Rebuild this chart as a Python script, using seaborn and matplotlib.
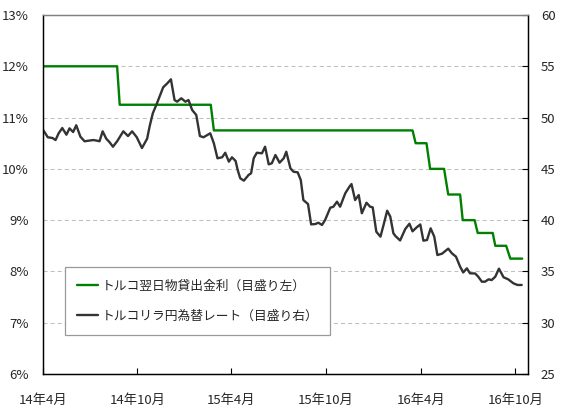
import matplotlib
matplotlib.use("Agg")
import matplotlib.pyplot as plt
import matplotlib.dates as mdates
from matplotlib.ticker import FixedLocator, FuncFormatter
from matplotlib.lines import Line2D
import seaborn as sns
import pandas as pd

# ==========================================
# データ
# ==========================================
rate_dates = ["2014-04-02", "2014-08-23", "2014-08-28", "2015-02-20", "2015-02-26",
              "2016-03-16", "2016-03-22", "2016-04-12", "2016-04-19", "2016-05-16",
              "2016-05-24", "2016-06-16", "2016-06-21", "2016-07-14", "2016-07-20",
              "2016-08-18", "2016-08-23", "2016-09-13", "2016-09-21", "2016-10-14"]
rate_values = [12.0, 12.0, 11.25, 11.25, 10.75,
               10.75, 10.5, 10.5, 10.0, 10.0,
               9.5, 9.5, 9.0, 9.0, 8.75,
               8.75, 8.5, 8.5, 8.25, 8.25]

fx_dates = ["2014-04-02", "2014-04-11", "2014-04-20", "2014-04-26", "2014-05-02",
            "2014-05-09", "2014-05-17", "2014-05-23", "2014-05-30", "2014-06-05",
            "2014-06-13", "2014-06-21", "2014-06-29", "2014-07-08", "2014-07-15",
            "2014-07-20", "2014-07-26", "2014-08-02", "2014-08-08", "2014-08-15",
            "2014-08-23", "2014-09-04", "2014-09-13", "2014-09-21", "2014-09-30",
            "2014-10-10", "2014-10-20", "2014-10-25", "2014-10-31", "2014-11-08",
            "2014-11-20", "2014-11-28", "2014-12-05", "2014-12-12", "2014-12-17",
            "2014-12-25", "2015-01-02", "2015-01-08", "2015-01-15", "2015-01-23",
            "2015-01-30", "2015-02-06", "2015-02-19", "2015-02-26", "2015-03-05",
            "2015-03-14", "2015-03-20", "2015-03-27", "2015-04-02", "2015-04-09",
            "2015-04-13", "2015-04-18", "2015-04-25", "2015-05-04", "2015-05-09",
            "2015-05-14", "2015-05-20", "2015-05-30", "2015-06-05", "2015-06-12",
            "2015-06-18", "2015-06-25", "2015-07-03", "2015-07-11", "2015-07-16",
            "2015-07-24", "2015-07-30", "2015-08-07", "2015-08-13", "2015-08-18",
            "2015-08-27", "2015-09-02", "2015-09-10", "2015-09-16", "2015-09-23",
            "2015-09-29", "2015-10-09", "2015-10-15", "2015-10-22", "2015-10-28",
            "2015-11-07", "2015-11-15", "2015-11-19", "2015-11-26", "2015-12-03",
            "2015-12-09", "2015-12-18", "2015-12-25", "2015-12-30", "2016-01-06",
            "2016-01-14", "2016-01-20", "2016-01-27", "2016-02-02", "2016-02-08",
            "2016-02-12", "2016-02-21", "2016-03-02", "2016-03-10", "2016-03-16",
            "2016-03-24", "2016-03-31", "2016-04-06", "2016-04-13", "2016-04-20",
            "2016-04-27", "2016-05-03", "2016-05-12", "2016-05-24", "2016-05-31",
            "2016-06-08", "2016-06-16", "2016-06-22", "2016-06-29", "2016-07-05",
            "2016-07-15", "2016-07-21", "2016-07-28", "2016-08-03", "2016-08-10",
            "2016-08-16", "2016-08-23", "2016-08-30", "2016-09-08", "2016-09-17",
            "2016-09-27", "2016-10-05", "2016-10-13"]
fx_values = [48.79, 48.08, 48.01, 47.81, 48.47,
             48.98, 48.33, 48.95, 48.59, 49.25,
             48.14, 47.69, 47.75, 47.81, 47.75,
             47.69, 48.66, 47.94, 47.62, 47.16,
             47.69, 48.66, 48.20, 48.66, 48.08,
             47.03, 47.94, 49.18, 50.42, 51.39,
             52.95, 53.34, 53.73, 51.71, 51.55,
             51.88, 51.55, 51.71, 50.74, 50.25,
             48.20, 48.08, 48.47, 47.49, 46.03,
             46.13, 46.57, 45.70, 46.13, 45.77,
             44.89, 44.08, 43.85, 44.40, 44.57,
             46.03, 46.57, 46.52, 47.16, 45.44,
             45.54, 46.35, 45.60, 46.03, 46.67,
             45.05, 44.72, 44.66, 43.91, 41.96,
             41.57, 39.59, 39.62, 39.75, 39.53,
             40.01, 41.21, 41.31, 41.80, 41.31,
             42.62, 43.26, 43.52, 41.96, 42.45,
             40.67, 41.70, 41.31, 41.25, 38.87,
             38.39, 39.53, 40.92, 40.34, 38.72,
             38.45, 38.02, 39.14, 39.65, 38.91,
             39.30, 39.58, 38.00, 38.06, 39.20,
             38.39, 36.60, 36.73, 37.22, 36.77,
             36.44, 35.46, 34.90, 35.30, 34.82,
             34.80, 34.49, 34.00, 34.00, 34.23,
             34.16, 34.49, 35.27, 34.43, 34.23,
             33.84, 33.68, 33.68]

label_rate = "トルコ翌日物貸出金利（目盛り左）"
label_fx = "トルコリラ円為替レート（目盛り右）"

x_ticks = ["2014-04-01", "2014-10-01", "2015-04-01", "2015-10-01", "2016-04-01", "2016-10-01"]
left_ticks = [6, 7, 8, 9, 10, 11, 12, 13]
right_ticks = [25, 30, 35, 40, 45, 50, 55, 60]

# ==========================================
# スタイル
# ==========================================
sns.set_theme(style="white")
plt.rcParams['font.family'] = ['Noto Sans CJK JP', 'DejaVu Sans']
plt.rcParams['font.size'] = 9.5

df_rate = pd.DataFrame({"date": pd.to_datetime(rate_dates), "rate": rate_values})
df_fx = pd.DataFrame({"date": pd.to_datetime(fx_dates), "fx": fx_values})

fig = plt.figure(figsize=(5.66, 4.11), dpi=100)
ax = fig.add_axes([0.0753, 0.09, 0.8583, 0.8735])
ax2 = ax.twinx()

green = "#008000"
dark = "#333333"

sns.lineplot(data=df_rate, x="date", y="rate", ax=ax, color=green, linewidth=1.7,
             estimator=None, sort=False)
sns.lineplot(data=df_fx, x="date", y="fx", ax=ax2, color=dark, linewidth=1.7,
             estimator=None, sort=False)

ax.set_xlim(pd.Timestamp("2014-04-01"), pd.Timestamp("2016-10-26"))
ax.set_ylim(6, 13)
ax2.set_ylim(25, 60)

ax.xaxis.set_major_locator(FixedLocator(mdates.date2num(pd.to_datetime(x_ticks))))
ax.xaxis.set_major_formatter(FuncFormatter(
    lambda v, p: f"{mdates.num2date(v).year % 100}年{mdates.num2date(v).month}月"))
ax.yaxis.set_major_locator(FixedLocator(left_ticks))
ax.yaxis.set_major_formatter(FuncFormatter(lambda v, p: f"{int(v)}%"))
ax2.yaxis.set_major_locator(FixedLocator(right_ticks))

ax.set_xlabel("")
ax.set_ylabel("")
ax2.set_ylabel("")

# 補助線
for t in left_ticks[1:-1]:
    ax.axhline(t, color="#c0c0c0", linewidth=0.75, linestyle=(0, (3.9, 2.9)), zorder=0)

ax.tick_params(axis="x", direction="in", length=4, width=0.8, color="black",
               pad=14, labelsize=9.5, bottom=True)
ax.tick_params(axis="y", length=0, pad=10, labelsize=9.5, left=True)
ax2.tick_params(axis="y", direction="in", length=4, width=0.8, color="black",
                pad=9, labelsize=9.5, right=True)

for a in (ax, ax2):
    for side in ("left", "right", "bottom"):
        a.spines[side].set_color("black")
        a.spines[side].set_linewidth(0.9)
    a.spines["top"].set_color("#808080")
    a.spines["top"].set_linewidth(0.9)

handles = [Line2D([], [], color=green, linewidth=1.7),
           Line2D([], [], color=dark, linewidth=1.7)]
leg = ax2.legend(handles, [label_rate, label_fx], loc="lower left",
                 bbox_to_anchor=(0.046, 0.109), frameon=True, fancybox=False,
                 edgecolor="#999999", framealpha=1, fontsize=9.2,
                 handlelength=1.6, handletextpad=0.3, labelspacing=1.35,
                 borderpad=0.95, borderaxespad=0)
leg.get_frame().set_linewidth(0.9)

fig.savefig("out.png", dpi=100)
